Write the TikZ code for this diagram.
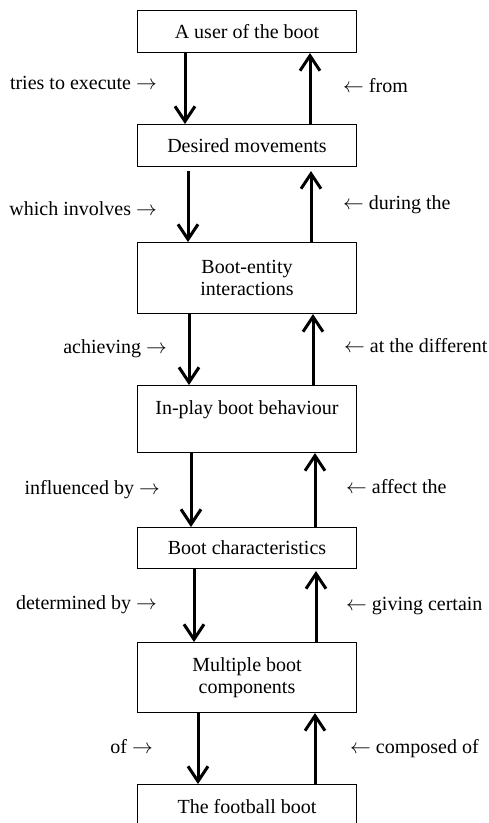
\documentclass[tikz,border=0pt]{standalone}
\usepackage{fontspec}
\setmainfont{Liberation Serif}
\usetikzlibrary{arrows.meta}
\begin{document}
\begin{tikzpicture}[x=1pt,y=-1pt,
  box/.style={draw, line width=1pt, minimum width=219pt, inner sep=0pt, align=center,
    font=\fontsize{20}{22}\selectfont, anchor=north},
  lbl/.style={font=\fontsize{20}{22}\selectfont, inner sep=0pt},
  arr/.style={line width=3pt, -{Straight Barb[length=15pt,width=20pt,line width=3pt]}}]
\useasboundingbox (0,0) rectangle (489,823);
\clip (0,0) rectangle (489,823);
\fill[white] (0,0) rectangle (489,823);
\node[box, minimum height=42pt] (b1) at (247,10) {A user of the boot};
\node[box, minimum height=42pt] (b2) at (247,124) {Desired movements};
\node[box, minimum height=71pt] (b3) at (247,242) {Boot-entity\\interactions};
\node[box, minimum height=67pt] (b4) at (247,385) {In-play boot behaviour\\\mbox{}};
\node[box, minimum height=41pt] (b5) at (247,527) {Boot characteristics};
\node[box, minimum height=70pt] (b6) at (247,642) {Multiple boot\\components};
\node[box, minimum height=44pt] (b7) at (247,784) {The football boot};
% down arrows
\draw[arr] ([xshift=-62pt]b1.south) -- ([xshift=-62pt]b2.north);
\draw[arr, shorten <=4pt] ([xshift=-59pt]b2.south) -- ([xshift=-59pt]b3.north);
\draw[arr] ([xshift=-58pt]b3.south) -- ([xshift=-58pt]b4.north);
\draw[arr] ([xshift=-56pt]b4.south) -- ([xshift=-56pt]b5.north);
\draw[arr] ([xshift=-53pt]b5.south) -- ([xshift=-53pt]b6.north);
\draw[arr] ([xshift=-49pt]b6.south) -- ([xshift=-49pt]b7.north);
% up arrows
\draw[arr] ([xshift=63pt]b2.north) -- ([xshift=63pt]b1.south);
\draw[arr, shorten >=4pt] ([xshift=64pt]b3.north) -- ([xshift=64pt]b2.south);
\draw[arr] ([xshift=66pt]b4.north) -- ([xshift=66pt]b3.south);
\draw[arr] ([xshift=68pt]b5.north) -- ([xshift=68pt]b4.south);
\draw[arr, shorten >=2pt] ([xshift=69pt]b6.north) -- ([xshift=69pt]b5.south);
\draw[arr] ([xshift=68pt]b7.north) -- ([xshift=68pt]b6.south);
% left labels
\node[lbl, anchor=base east] (l1) at (157,89) {tries to execute $\rightarrow$};
\node[lbl, anchor=base east] (l2) at (157,215) {which involves $\rightarrow$};
\node[lbl, anchor=base east] (l3) at (167,353) {achieving $\rightarrow$};
\node[lbl, anchor=base east] (l4) at (160,494) {influenced by $\rightarrow$};
\node[lbl, anchor=base east] (l5) at (157,609) {determined by $\rightarrow$};
\node[lbl, anchor=base east] (l6) at (153,753) {of $\rightarrow$};
% right labels
\node[lbl, anchor=base west] (r1) at (343,92) {$\leftarrow$ from};
\node[lbl, anchor=base west] (r2) at (343,209) {$\leftarrow$ during the};
\node[lbl, anchor=base west] (r3) at (344,352) {$\leftarrow$ at the different};
\node[lbl, anchor=base west] (r4) at (346,493) {$\leftarrow$ affect the};
\node[lbl, anchor=base west] (r5) at (346,610) {$\leftarrow$ giving certain};
\node[lbl, anchor=base west] (r6) at (350,753) {$\leftarrow$ composed of};
\end{tikzpicture}
\end{document}
